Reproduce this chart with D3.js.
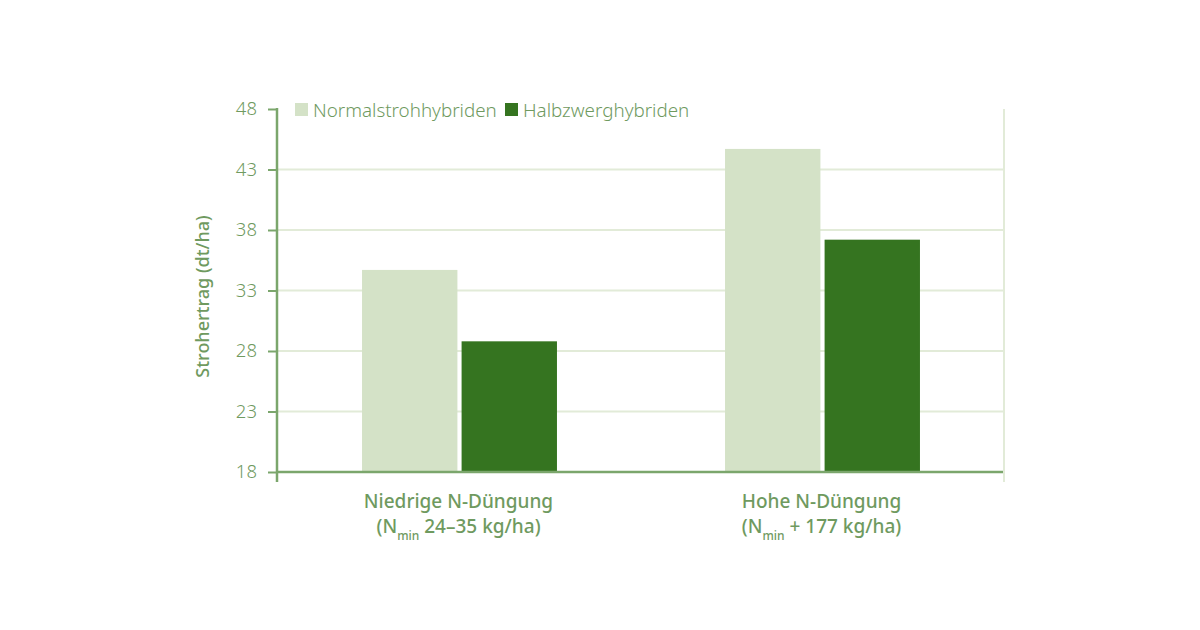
<!DOCTYPE html>
<html lang="de">
<head>
  <meta charset="UTF-8">
  <title>Strohertrag</title>
  <script src="https://d3js.org/d3.v7.min.js"></script>
  <style>
    body { margin:0; background:#fff; }
    svg { display:block; }
    text { font-family: "Noto Sans", sans-serif; fill:#6f9a5f; }
  </style>
</head>
<body>
<svg width="1200" height="630"></svg>
<script>
// data
const groups = ['Niedrige N-Düngung', 'Hohe N-Düngung'];
const groupSub = [' 24–35 kg/ha)', ' + 177 kg/ha)'];
const series = ['Normalstrohhybriden', 'Halbzwerghybriden'];
const normalVals = [34.7, 44.7];
const halbVals = [28.8, 37.2];
const yTicks = [18, 23, 28, 33, 38, 43, 48];

const colors = ['#d4e2c7', '#357420'];

const svg = d3.select('svg');
const mLeft = 277, mRight = 1003, mTop = 109, mBottom = 472;

const y = d3.scaleLinear().domain([18, 48]).range([mBottom, mTop]);
const x0 = d3.scaleBand().domain(groups).range([mLeft, mRight])
  .paddingInner(0.463).paddingOuter(0.2315);
const x1 = d3.scaleBand().domain(series).range([0, x0.bandwidth()]).paddingInner(0.042);

// gridlines (not at top)
svg.append('g')
  .selectAll('line')
  .data(yTicks.filter(t => t !== 18 && t !== 48))
  .join('line')
  .attr('x1', mLeft).attr('x2', mRight)
  .attr('y1', d => y(d)).attr('y2', d => y(d))
  .attr('stroke', '#e2ebd8').attr('stroke-width', 2);

// right border line
svg.append('line')
  .attr('x1', mRight + 1).attr('x2', mRight + 1)
  .attr('y1', mTop).attr('y2', mBottom + 10)
  .attr('stroke', '#e2ebd8').attr('stroke-width', 2);

// bars
const rows = groups.map((g, i) => ({ g, vals: [normalVals[i], halbVals[i]] }));
svg.append('g')
  .selectAll('g')
  .data(rows)
  .join('g')
  .attr('transform', d => `translate(${x0(d.g) + 1},0)`)
  .selectAll('rect')
  .data(d => d.vals.map((v, j) => ({ s: series[j], v, j })))
  .join('rect')
  .attr('x', d => x1(d.s))
  .attr('width', x1.bandwidth())
  .attr('y', d => y(d.v))
  .attr('height', d => y(18) - y(d.v))
  .attr('fill', d => colors[d.j]);

// y axis
const yAxis = svg.append('g')
  .attr('transform', `translate(${mLeft},0)`)
  .call(d3.axisLeft(y).tickValues(yTicks).tickSize(9).tickPadding(11).tickSizeOuter(0));
yAxis.select('.domain').remove();
yAxis.selectAll('.tick line').attr('stroke', '#7ba66c').attr('stroke-width', 2);
yAxis.selectAll('.tick text')
  .attr('fill', '#6f9a5f')
  .style('font-size', '18.5px')
  .style('font-family', '"Noto Sans", sans-serif')
  .style('font-weight', 300);
svg.append('line')
  .attr('x1', mLeft).attr('x2', mLeft)
  .attr('y1', mTop - 1).attr('y2', mBottom + 10)
  .attr('stroke', '#7ba66c').attr('stroke-width', 2.5);

// baseline
svg.append('line')
  .attr('x1', mLeft).attr('x2', mRight)
  .attr('y1', mBottom).attr('y2', mBottom)
  .attr('stroke', '#7ba66c').attr('stroke-width', 2.5);

// y title
svg.append('text')
  .attr('transform', `translate(209,${(mTop + mBottom) / 2 + 6}) rotate(-90)`)
  .attr('text-anchor', 'middle')
  .style('font-size', '18px')
  .style('font-weight', 500)
  .text('Strohertrag (dt/ha)');

// x labels
const xl = svg.append('g')
  .selectAll('g')
  .data(groups)
  .join('g')
  .attr('transform', d => `translate(${x0(d) + x0.bandwidth() / 2},0)`);
xl.append('text')
  .attr('y', 508)
  .attr('text-anchor', 'middle')
  .style('font-size', '19px')
  .style('font-weight', 500)
  .text(d => d);
const l2 = xl.append('text')
  .attr('y', 533)
  .attr('text-anchor', 'middle')
  .style('font-size', '19px')
  .style('font-weight', 500);
l2.append('tspan').text('(N');
l2.append('tspan').attr('dy', 7).style('font-size', '12px').text('min');
l2.append('tspan').attr('dy', -7).text((d, i) => groupSub[i]);

// legend
const legX = [295, 505];
const leg = svg.append('g')
  .selectAll('g')
  .data(series)
  .join('g')
  .attr('transform', (d, i) => `translate(${legX[i]},103)`);
leg.append('rect')
  .attr('width', 13).attr('height', 13)
  .attr('fill', (d, i) => colors[i]);
leg.append('text')
  .attr('x', 18).attr('y', 13.5)
  .style('font-size', '18.8px')
  .style('font-weight', 300)
  .text(d => d);
</script>
</body>
</html>
